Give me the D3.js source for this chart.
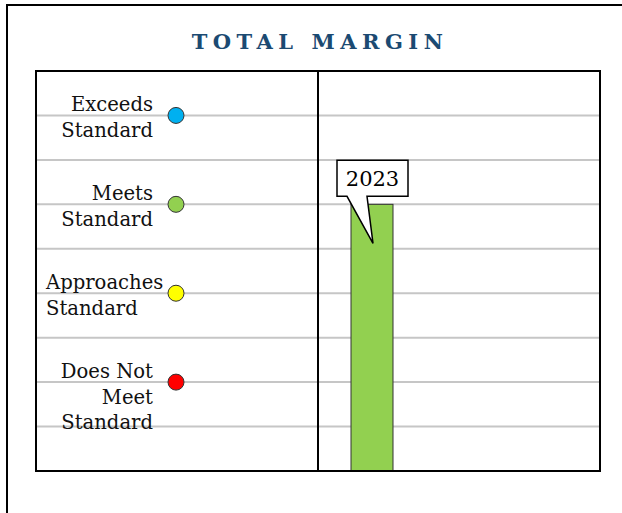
<!DOCTYPE html>
<html>
<head>
<meta charset="utf-8">
<script src="https://cdn.jsdelivr.net/npm/d3@7"></script>
<style>
  body { margin: 0; background: #fff; }
  svg { display: block; }
</style>
</head>
<body>
<div id="chart"></div>
<script>
// performance levels shown on the left panel
const levels = ["Exceeds Standard", "Meets Standard", "Approaches Standard", "Does Not Meet Standard"];
const levelLines = [["Exceeds", "Standard"], ["Meets", "Standard"], ["Approaches", "Standard"], ["Does Not", "Meet", "Standard"]];
const levelValues = [8, 6, 4, 2];
const levelColors = ["#00b0f0", "#92d050", "#ffff00", "#ff0000"];

// bar data
const years = ["2023"];
const yearValues = [6];
const gridValues = [1, 2, 3, 4, 5, 6, 7, 8];

const W = 622, H = 513;
const frame = { left: 36, right: 600, top: 71, bottom: 471, divider: 318 };

const svg = d3.select("#chart").append("svg")
    .attr("width", W)
    .attr("height", H);

// outer page border
svg.append("rect")
    .attr("x", 7).attr("y", 5)
    .attr("width", 700).attr("height", 600)
    .attr("fill", "none")
    .attr("stroke", "#000")
    .attr("stroke-width", 2);

// title (letter-spacing adds a trailing gap, so nudge right)
svg.append("text")
    .attr("x", 320)
    .attr("y", 49)
    .attr("text-anchor", "middle")
    .style("font-family", "'DejaVu Serif', serif")
    .style("font-weight", "bold")
    .style("font-size", "21px")
    .style("letter-spacing", "5.5px")
    .attr("fill", "#1b4a72")
    .text("TOTAL MARGIN");

const y = d3.scaleLinear()
    .domain([0, 9])
    .range([frame.bottom, frame.top]);

const x = d3.scaleBand()
    .domain(years)
    .range([330, 414])
    .paddingInner(0.5)
    .paddingOuter(0.25);

// gridlines
svg.append("g")
    .selectAll("line")
    .data(gridValues)
    .join("line")
    .attr("x1", frame.left).attr("x2", frame.right)
    .attr("y1", d => y(d)).attr("y2", d => y(d))
    .attr("stroke", "#c6c6c6")
    .attr("stroke-width", 2);

// bars
svg.append("g")
    .selectAll("rect")
    .data(years)
    .join("rect")
    .attr("x", d => x(d))
    .attr("y", (d, i) => y(yearValues[i]))
    .attr("width", x.bandwidth())
    .attr("height", (d, i) => frame.bottom - y(yearValues[i]))
    .attr("fill", "#92d050")
    .attr("stroke", "#333")
    .attr("stroke-width", 1);

// plot frame + divider
svg.append("rect")
    .attr("x", frame.left).attr("y", frame.top)
    .attr("width", frame.right - frame.left)
    .attr("height", frame.bottom - frame.top)
    .attr("fill", "none")
    .attr("stroke", "#000")
    .attr("stroke-width", 2);

svg.append("line")
    .attr("x1", frame.divider).attr("x2", frame.divider)
    .attr("y1", frame.top).attr("y2", frame.bottom)
    .attr("stroke", "#000")
    .attr("stroke-width", 2);

// legend dots and labels
const lg = svg.append("g")
    .selectAll("g")
    .data(levels)
    .join("g")
    .attr("transform", (d, i) => `translate(0,${y(levelValues[i])})`);

lg.append("circle")
    .attr("cx", 176)
    .attr("r", 8)
    .attr("fill", (d, i) => levelColors[i])
    .attr("stroke", "#333")
    .attr("stroke-width", 1);

// long labels overflow the label box, so they sit left-aligned
const wide = d => d === "Approaches Standard";
lg.append("text")
    .attr("text-anchor", d => wide(d) ? "start" : "end")
    .style("font-family", "'DejaVu Serif', serif")
    .style("font-size", "19.6px")
    .attr("fill", "#111")
    .selectAll("tspan")
    .data((d, i) => levelLines[i].map(t => ({ t, w: wide(d) })))
    .join("tspan")
    .attr("x", d => d.w ? 46 : 153)
    .attr("y", (d, j) => -4 + j * 25.5)
    .text(d => d.t);

// callout for the year
years.forEach((yr, i) => {
    const cx = x(yr) + x.bandwidth() / 2;
    const top = y(yearValues[i]);
    const bx = 337, bw = 71, by = top - 44, bh = 36;
    const tipX = cx + 1, tipY = top + 39;
    svg.append("path")
        .attr("d", `M${bx},${by} H${bx + bw} V${by + bh} H${bx + 30} L${tipX},${tipY} L${bx + 10},${by + bh} H${bx} Z`)
        .attr("fill", "#fff")
        .attr("stroke", "#000")
        .attr("stroke-width", 1.5);
    svg.append("text")
        .attr("x", bx + bw / 2)
        .attr("y", by + 26)
        .attr("text-anchor", "middle")
        .style("font-family", "'DejaVu Serif', serif")
        .style("font-size", "21px")
        .attr("fill", "#000")
        .text(yr);
});
</script>
</body>
</html>
